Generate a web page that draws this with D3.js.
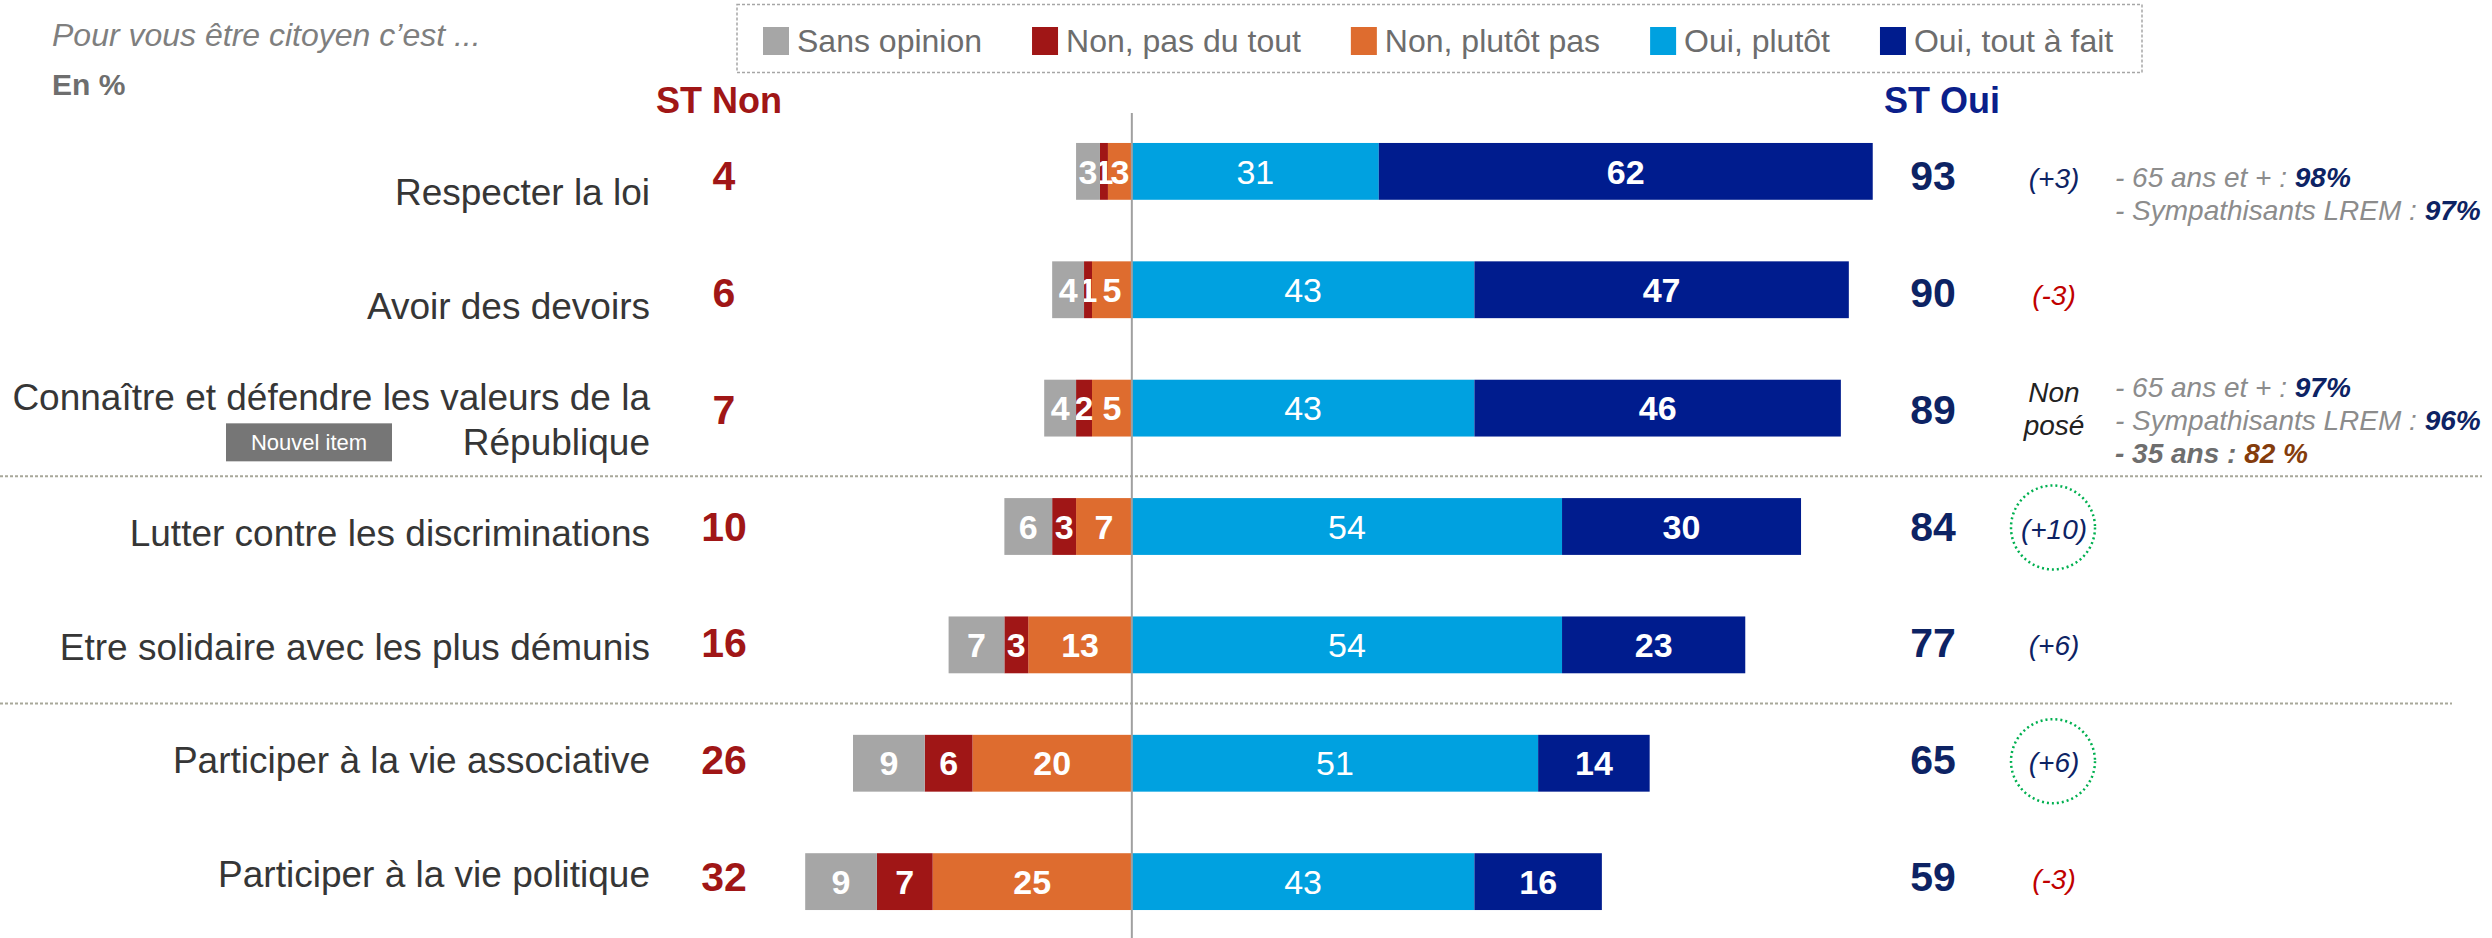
<!DOCTYPE html>
<html>
<head>
<meta charset="utf-8">
<script src="https://cdn.jsdelivr.net/npm/d3@7"></script>
<style>
  body { margin: 0; background: #fff; }
  svg { display: block; font-family: "Liberation Sans", Arial, sans-serif; }
</style>
</head>
<body>
<svg class="chart" width="2492" height="938"></svg>
<script>
(function () {

    'use strict';

    // data
    var categories = [
        "Respecter la loi",
        "Avoir des devoirs",
        "Connaître et défendre les valeurs de la République",
        "Lutter contre les discriminations",
        "Etre solidaire avec les plus démunis",
        "Participer à la vie associative",
        "Participer à la vie politique"
    ];
    var sansOpinion  = [3, 4, 4, 6, 7, 9, 9];
    var nonPasDuTout = [1, 1, 2, 3, 3, 6, 7];
    var nonPlutotPas = [3, 5, 5, 7, 13, 20, 25];
    var ouiPlutot    = [31, 43, 43, 54, 54, 51, 43];
    var ouiToutAFait = [62, 47, 46, 30, 23, 14, 16];
    var stNon = [4, 6, 7, 10, 16, 26, 32];
    var stOui = [93, 90, 89, 84, 77, 65, 59];
    var evolution = ["(+3)", "(-3)", "Non posé", "(+10)", "(+6)", "(+6)", "(-3)"];
    var highlighted = [false, false, false, true, false, true, false];
    var notes = [
        [{ label: "- 65 ans et + : ", value: "98%" }, { label: "- Sympathisants LREM : ", value: "97%" }],
        [],
        [{ label: "- 65 ans et + : ", value: "97%" }, { label: "- Sympathisants LREM : ", value: "96%" }, { label: "- 35 ans : ", value: "82 %", low: true }],
        [], [], [], []
    ];
    var legendLabels = ["Sans opinion", "Non, pas du tout", "Non, plutôt pas", "Oui, plutôt", "Oui, tout à fait"];

    var keys = ['nonPlutotPas', 'nonPasDuTout', 'sansOpinion', 'ouiPlutot', 'ouiToutAFait'];
    var legendKeys = ['sansOpinion', 'nonPasDuTout', 'nonPlutotPas', 'ouiPlutot', 'ouiToutAFait'];
    var colors = {
        sansOpinion: "#a6a6a6",
        nonPasDuTout: "#a01616",
        nonPlutotPas: "#de6c2f",
        ouiPlutot: "#00a1e0",
        ouiToutAFait: "#001c8e"
    };
    var navy = "#0d2364", darkRed = "#a01616";

    var svg = d3.select("svg.chart");

    var rows = categories.map(function (c, i) {
        return {
            cat: c,
            nonPlutotPas: -nonPlutotPas[i],
            nonPasDuTout: -nonPasDuTout[i],
            sansOpinion: -sansOpinion[i],
            ouiPlutot: ouiPlutot[i],
            ouiToutAFait: ouiToutAFait[i]
        };
    });
    var series = d3.stack().keys(keys).offset(d3.stackOffsetDiverging)(rows);

    var x = d3.scaleLinear().domain([-50, 100]).range([733.5, 1928.5]);
    var y = d3.scaleBand().domain(categories).range([120, 933]).paddingInner(0.52).paddingOuter(0.194);
    var yLab = d3.scalePoint().domain(categories).range([192, 874]);
    var yNum = d3.scalePoint().domain(categories).range([176, 877]);

    // header texts
    svg.append("text").attr("x", 52).attr("y", 46)
        .attr("font-size", 32).attr("font-style", "italic").attr("fill", "#7f7f7f")
        .text("Pour vous être citoyen c’est ...");
    svg.append("text").attr("x", 52).attr("y", 95)
        .attr("font-size", 30).attr("font-weight", "bold").attr("fill", "#6e6e6e")
        .text("En %");
    svg.append("text").attr("x", 719).attr("y", 113).attr("text-anchor", "middle")
        .attr("font-size", 36).attr("font-weight", "bold").attr("fill", darkRed)
        .text("ST Non");
    svg.append("text").attr("x", 1942).attr("y", 113).attr("text-anchor", "middle")
        .attr("font-size", 36).attr("font-weight", "bold").attr("fill", "#0b1f8a")
        .text("ST Oui");

    // legend
    svg.append("rect")
        .attr("x", 737).attr("y", 4.5).attr("width", 1405).attr("height", 68)
        .attr("fill", "none").attr("stroke", "#a6a6a6").attr("stroke-width", 1.5)
        .attr("stroke-dasharray", "3,2");
    var legend = svg.append("g").attr("font-size", 32).attr("fill", "#6d6d6d");
    var lx = 763;
    legendKeys.forEach(function (k, i) {
        var item = legend.append("g").attr("transform", "translate(" + lx + ",0)");
        item.append("rect").attr("x", 0).attr("y", 27).attr("width", 26).attr("height", 28).attr("fill", colors[k]);
        var t = item.append("text").attr("x", 34).attr("y", 52).text(legendLabels[i]);
        lx += 34 + t.node().getComputedTextLength() + 50;
    });

    // separators
    var seps = [[2, 2482], [4, 2452]];
    seps.forEach(function (s) {
        var yy = (yLab(categories[s[0]]) + yLab(categories[s[0] + 1])) / 2;
        svg.append("line")
            .attr("x1", 0).attr("x2", s[1]).attr("y1", yy).attr("y2", yy)
            .attr("stroke", "#a8a89a").attr("stroke-width", 2).attr("stroke-dasharray", "3,2");
    });

    // bars
    var g = svg.append("g");
    var layer = g.selectAll("g.layer")
        .data(series)
        .enter().append("g")
        .attr("class", "layer")
        .attr("fill", function (d) { return colors[d.key]; });

    layer.selectAll("rect")
        .data(function (d) { return d; })
        .enter().append("rect")
        .attr("x", function (d) { return x(Math.min(d[0], d[1])); })
        .attr("y", function (d) { return y(d.data.cat); })
        .attr("width", function (d) { return Math.abs(x(d[1]) - x(d[0])); })
        .attr("height", y.bandwidth());

    layer.selectAll("text")
        .data(function (d) { return d.map(function (v) { return { key: d.key, v: v }; }); })
        .enter().append("text")
        .attr("x", function (d) { return x((d.v[0] + d.v[1]) / 2); })
        .attr("y", function (d) { return y(d.v.data.cat) + y.bandwidth() / 2; })
        .attr("dy", "0.36em")
        .attr("text-anchor", "middle")
        .attr("font-size", 34)
        .attr("font-weight", function (d) { return d.key === 'ouiPlutot' ? "normal" : "bold"; })
        .attr("fill", "#fff")
        .text(function (d) { return Math.abs(d.v[1] - d.v[0]); });

    // zero line
    svg.append("line")
        .attr("x1", x(0)).attr("x2", x(0)).attr("y1", 113).attr("y2", 938)
        .attr("stroke", "#a0a0a0").attr("stroke-width", 2);

    // category labels
    var labels = svg.append("g").attr("font-size", 37).attr("fill", "#363636").attr("text-anchor", "end");
    categories.forEach(function (c, i) {
        var base = yLab(c) + 13;
        if (i === 2) {
            labels.append("text").attr("x", 650).attr("y", base - 22.5).text("Connaître et défendre les valeurs de la");
            labels.append("text").attr("x", 650).attr("y", base + 22.5).text("République");
            svg.append("rect").attr("x", 226).attr("y", base - 9).attr("width", 166).attr("height", 38).attr("fill", "#767676");
            svg.append("text").attr("x", 309).attr("y", base + 18).attr("text-anchor", "middle")
                .attr("font-size", 22).attr("fill", "#fff").text("Nouvel item");
        } else {
            labels.append("text").attr("x", 650).attr("y", base).text(c);
        }
    });

    // ST columns
    svg.append("g").selectAll("text")
        .data(categories)
        .enter().append("text")
        .attr("x", 724).attr("y", function (d) { return yNum(d) + 14; })
        .attr("text-anchor", "middle").attr("font-size", 41).attr("font-weight", "bold")
        .attr("fill", darkRed)
        .text(function (d, i) { return stNon[i]; });

    svg.append("g").selectAll("text")
        .data(categories)
        .enter().append("text")
        .attr("x", 1933).attr("y", function (d) { return yNum(d) + 14; })
        .attr("text-anchor", "middle").attr("font-size", 41).attr("font-weight", "bold")
        .attr("fill", navy)
        .text(function (d, i) { return stOui[i]; });

    // evolution
    var evo = svg.append("g").attr("font-size", 28).attr("font-style", "italic").attr("text-anchor", "middle");
    categories.forEach(function (c, i) {
        var e = evolution[i];
        if (e === "Non posé") {
            var mid = y(c) + y.bandwidth() / 2 + 10;
            evo.append("text").attr("x", 2054).attr("y", mid - 16.5).attr("fill", "#222").text("Non");
            evo.append("text").attr("x", 2054).attr("y", mid + 16.5).attr("fill", "#222").text("posé");
            return;
        }
        evo.append("text").attr("x", 2054).attr("y", yNum(c) + 12)
            .attr("fill", e.charAt(1) === "-" ? "#c00000" : navy)
            .text(e);
        if (highlighted[i]) {
            svg.append("circle").attr("cx", 2053).attr("cy", yNum(c) + 1).attr("r", 42)
                .attr("fill", "none").attr("stroke", "#00b050").attr("stroke-width", 2.5)
                .attr("stroke-dasharray", "2,3");
        }
    });

    // sub-group notes
    var nt = svg.append("g").attr("font-size", 28).attr("font-style", "italic");
    categories.forEach(function (c, i) {
        var n = notes[i];
        var first = yLab(c) + 11 - (n.length - 1) * 33 / 2;
        n.forEach(function (line, j) {
            var t = nt.append("text").attr("x", 2115).attr("y", first + j * 33);
            t.append("tspan")
                .attr("fill", line.low ? "#6e6e6e" : "#8c8c8c")
                .attr("font-weight", line.low ? "bold" : "normal")
                .text(line.label);
            t.append("tspan")
                .attr("fill", line.low ? "#843c0c" : navy)
                .attr("font-weight", "bold")
                .text(line.value);
        });
    });

})();
</script>
</body>
</html>
